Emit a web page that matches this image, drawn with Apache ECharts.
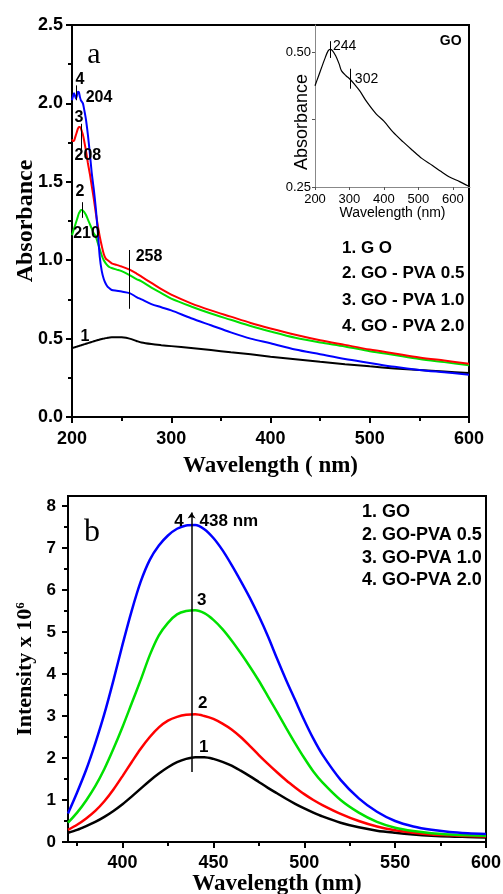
<!DOCTYPE html>
<html><head><meta charset="utf-8">
<script src="https://cdn.jsdelivr.net/npm/echarts@6/dist/echarts.min.js"></script>
<style>html,body{margin:0;padding:0;background:#fff}#c{width:503px;height:894px}</style>
</head><body><div id="c"></div>
<script>
// ---------- Panel a: UV-vis absorbance ----------
const absWl = [200,201,202,203,204,205,206,207,208,209,210,211,212,
  214,216,218,220,222,224,226,228,230,232,234,236,238,240,
  245,250,258,265,270,280,290,300,320,340,360,380,400,425,450,475,500,525,550,575,600];
const absGO = [0.44,0.441,0.443,0.445,0.447,0.449,0.451,0.453,0.455,0.457,0.459,0.461,0.463,
  0.467,0.471,0.475,0.479,0.483,0.487,0.491,0.494,0.497,0.50,0.503,0.505,0.507,0.508,
  0.509,0.508,0.50,0.485,0.475,0.465,0.458,0.452,0.44,0.427,0.413,0.40,0.385,0.368,0.352,0.337,0.323,0.31,0.30,0.29,0.28];
const absPVA05 = [1.16,1.18,1.20,1.22,1.24,1.26,1.28,1.30,1.31,1.32,1.32,1.315,1.31,
  1.29,1.26,1.23,1.20,1.17,1.15,1.11,1.07,1.03,1.00,0.98,0.965,0.955,0.95,
  0.94,0.93,0.905,0.88,0.865,0.825,0.79,0.755,0.705,0.66,0.62,0.58,0.545,0.505,0.475,0.45,0.42,0.395,0.37,0.35,0.33];
const absPVA10 = [1.77,1.76,1.76,1.78,1.80,1.82,1.84,1.85,1.85,1.84,1.82,1.80,1.77,
  1.70,1.62,1.55,1.47,1.39,1.30,1.22,1.15,1.09,1.04,1.01,1.00,0.99,0.98,
  0.97,0.96,0.94,0.915,0.895,0.855,0.815,0.78,0.725,0.68,0.64,0.60,0.565,0.525,0.49,0.46,0.43,0.405,0.38,0.36,0.34];
const absPVA20 = [2.02,2.045,2.065,2.05,2.03,2.05,2.075,2.07,2.04,2.02,2.01,2.00,1.97,
  1.90,1.80,1.68,1.55,1.45,1.33,1.18,1.02,0.93,0.88,0.85,0.83,0.82,0.81,
  0.805,0.80,0.79,0.765,0.75,0.72,0.70,0.68,0.63,0.585,0.54,0.50,0.47,0.43,0.40,0.37,0.345,0.32,0.30,0.285,0.27];

// ---------- Inset: GO absorbance ----------
const insetWl = [200,210,219,230,238,244,250,260,270,277,290,301,315,330,350,378,400,426,455,483,510,541,565,589,620,645];
const insetGO = [0.4375,0.455,0.471,0.490,0.502,0.505,0.503,0.493,0.478,0.465,0.456,0.450,0.440,0.428,0.408,0.385,0.372,0.352,0.334,0.318,0.303,0.290,0.279,0.269,0.260,0.252];
const insetXTicks = [200,300,400,500,600];
const insetYLabels = [0.25,0.50];
const insetYTicks = [0.25,0.375,0.50];

// ---------- Panel b: PL intensity ----------
const plWl = [370,375,380,385,390,395,400,405,410,415,420,425,430,435,440,445,450,455,460,465,470,475,480,485,490,495,500,505,510,520,530,540,550,560,570,580,590,600];
const plGO = [0.22,0.29,0.38,0.48,0.60,0.74,0.90,1.08,1.27,1.46,1.63,1.78,1.90,1.98,2.02,2.02,1.98,1.91,1.82,1.70,1.57,1.43,1.29,1.16,1.03,0.91,0.80,0.70,0.61,0.46,0.35,0.27,0.22,0.18,0.15,0.13,0.12,0.11];
const plPVA05 = [0.29,0.41,0.56,0.74,0.97,1.25,1.57,1.90,2.22,2.50,2.73,2.89,2.98,3.03,3.04,3.00,2.93,2.82,2.68,2.50,2.29,2.07,1.86,1.66,1.47,1.30,1.14,1.00,0.88,0.67,0.50,0.37,0.28,0.22,0.18,0.16,0.14,0.13];
const plPVA10 = [0.46,0.70,0.99,1.33,1.74,2.22,2.74,3.30,3.86,4.45,4.92,5.22,5.42,5.50,5.52,5.45,5.29,5.07,4.80,4.50,4.18,3.84,3.47,3.10,2.72,2.35,2.00,1.68,1.42,1.00,0.70,0.48,0.34,0.26,0.21,0.18,0.16,0.15];
const plPVA20 = [0.68,1.18,1.72,2.35,3.05,3.85,4.70,5.50,6.20,6.72,7.06,7.30,7.46,7.54,7.55,7.45,7.24,6.95,6.60,6.22,5.82,5.38,4.90,4.37,3.86,3.38,2.90,2.46,2.08,1.48,1.04,0.72,0.50,0.37,0.29,0.24,0.21,0.19];
const plXTicks = [400,450,500,550,600];
const plXMinor = [375,425,475,525,575];
const plYTicks = [0,1,2,3,4,5,6,7,8];
const plYMinor = [0.5,1.5,2.5,3.5,4.5,5.5,6.5,7.5];

const legendA = ['1. G O','2. GO - PVA 0.5','3. GO - PVA 1.0','4. GO - PVA 2.0'];
const legendB = ['1. GO','2. GO-PVA 0.5','3. GO-PVA 1.0','4. GO-PVA 2.0'];

const SANS = '"Liberation Sans", Arial, sans-serif';
const SERIF = '"Liberation Serif", "Times New Roman", serif';
const BLACK = '#000000', GREEN = '#00e000', RED = '#ff0000', BLUE = '#0000ff';

const pairs = (xs, ys) => xs.map((x, i) => [x, ys[i]]);

function lineSeries(xi, yi, xs, ys, color, w, extra) {
  return Object.assign({
    type: 'line', xAxisIndex: xi, yAxisIndex: yi, data: pairs(xs, ys),
    showSymbol: false, symbol: 'none', smooth: 0.3, animation: false, silent: true,
    lineStyle: { color: color, width: w }, itemStyle: { color: color }
  }, extra || {});
}
function marks(lines, w, syms) {
  return {
    silent: true, animation: false, symbol: syms || 'none', symbolSize: 7,
    label: { show: false }, lineStyle: { color: BLACK, width: w, type: 'solid' },
    emphasis: { disabled: true },
    data: lines.map(l => [{ coord: [l[0], l[1]] }, { coord: [l[0], l[2]] }])
  };
}
function texts(items) {
  return {
    silent: true, animation: false, symbol: 'circle', symbolSize: 1,
    itemStyle: { color: 'rgba(0,0,0,0)' },
    data: items.map(t => ({
      coord: [t[0], t[1]], value: 0,
      label: { show: true, position: 'inside', formatter: t[2], color: BLACK,
        fontFamily: t[4] || SANS, fontWeight: t[5] || 'bold', fontSize: t[3] }
    }))
  };
}

const tickLabelA = { color: BLACK, fontFamily: SANS, fontWeight: 'bold', fontSize: 18 };

const option = {
  animation: false,
  backgroundColor: '#fff',
  grid: [
    { left: 72, top: 25, width: 397, height: 392, show: true, borderColor: BLACK, borderWidth: 2, backgroundColor: 'transparent', containLabel: false, outerBoundsMode: 'none' },
    { left: 315, top: 25, width: 155, height: 162, show: false, containLabel: false, outerBoundsMode: 'none' },
    { left: 68, top: 496, width: 418, height: 346, show: true, borderColor: BLACK, borderWidth: 2, backgroundColor: 'transparent', containLabel: false, outerBoundsMode: 'none' }
  ],
  xAxis: [
    { gridIndex: 0, type: 'value', min: 200, max: 600, interval: 100, position: 'bottom',
      axisLine: { onZero: false, lineStyle: { color: BLACK, width: 2 } },
      axisTick: { inside: false, length: 6, lineStyle: { color: BLACK, width: 2 } },
      minorTick: { show: true, splitNumber: 2, length: 4, lineStyle: { color: BLACK, width: 2 } },
      splitLine: { show: false },
      axisLabel: Object.assign({ margin: 13 }, tickLabelA),
      name: 'Wavelength ( nm)', nameLocation: 'middle', nameGap: 38, nameMoveOverlap: false,
      nameTextStyle: { color: BLACK, fontFamily: SERIF, fontWeight: 'bold', fontSize: 23 } },
    { gridIndex: 1, type: 'value', min: 200, max: 650, position: 'bottom',
      axisLine: { onZero: false, lineStyle: { color: '#888', width: 1 } },
      axisTick: { inside: false, length: 3, customValues: insetXTicks, lineStyle: { color: '#555', width: 1 } },
      splitLine: { show: false },
      axisLabel: { customValues: insetXTicks, margin: 6, color: BLACK, fontFamily: SANS, fontSize: 13 },
      name: 'Wavelength (nm)', nameLocation: 'middle', nameGap: 19, nameMoveOverlap: false,
      nameTextStyle: { color: BLACK, fontFamily: SANS, fontSize: 14 } },
    { gridIndex: 2, type: 'value', min: 370, max: 600, position: 'bottom',
      axisLine: { onZero: false, lineStyle: { color: BLACK, width: 2 } },
      axisTick: { inside: false, length: 6, customValues: plXTicks, lineStyle: { color: BLACK, width: 2 } },
      splitLine: { show: false },
      axisLabel: { customValues: plXTicks, margin: 12, color: BLACK, fontFamily: SANS, fontWeight: 'bold', fontSize: 18 },
      name: 'Wavelength (nm)', nameLocation: 'middle', nameGap: 31, nameMoveOverlap: false,
      nameTextStyle: { color: BLACK, fontFamily: SERIF, fontWeight: 'bold', fontSize: 23 } },
    { gridIndex: 2, type: 'value', min: 370, max: 600, position: 'bottom',
      axisLine: { show: false },
      axisTick: { inside: false, length: 4, customValues: plXMinor, lineStyle: { color: BLACK, width: 2 } },
      splitLine: { show: false }, axisLabel: { show: false } }
  ],
  yAxis: [
    { gridIndex: 0, type: 'value', min: 0, max: 2.5, interval: 0.5, position: 'left',
      axisLine: { onZero: false, lineStyle: { color: BLACK, width: 2 } },
      axisTick: { inside: false, length: 6, lineStyle: { color: BLACK, width: 2 } },
      minorTick: { show: true, splitNumber: 2, length: 4, lineStyle: { color: BLACK, width: 2 } },
      splitLine: { show: false },
      axisLabel: Object.assign({ margin: 9, formatter: v => v.toFixed(1) }, tickLabelA),
      name: 'Absorbance', nameLocation: 'middle', nameGap: 34, nameMoveOverlap: false,
      nameTextStyle: { color: BLACK, fontFamily: SERIF, fontWeight: 'bold', fontSize: 24 } },
    { gridIndex: 1, type: 'value', min: 0.25, max: 0.55, position: 'left',
      axisLine: { onZero: false, lineStyle: { color: '#888', width: 1 } },
      axisTick: { inside: false, length: 3, customValues: insetYTicks, lineStyle: { color: '#555', width: 1 } },
      splitLine: { show: false },
      axisLabel: { customValues: insetYLabels, margin: 4, formatter: v => v.toFixed(2), color: BLACK, fontFamily: SANS, fontSize: 13 },
      name: 'Absorbance', nameLocation: 'middle', nameGap: 4, nameMoveOverlap: false,
      nameTextStyle: { color: BLACK, fontFamily: SANS, fontSize: 18, padding: [0, 32, 0, 0] } },
    { gridIndex: 2, type: 'value', min: 0, max: 8.24, position: 'left',
      axisLine: { onZero: false, lineStyle: { color: BLACK, width: 2 } },
      axisTick: { inside: false, length: 6, customValues: plYTicks, lineStyle: { color: BLACK, width: 2 } },
      splitLine: { show: false },
      axisLabel: { customValues: plYTicks, margin: 12, color: BLACK, fontFamily: SANS, fontWeight: 'bold', fontSize: 17 },
      name: 'Intensity x 10{sup|6}', nameLocation: 'middle', nameGap: 32, nameMoveOverlap: false,
      nameTextStyle: { color: BLACK, fontFamily: SERIF, fontWeight: 'bold', fontSize: 22,
        rich: { sup: { fontFamily: SERIF, fontWeight: 'bold', fontSize: 13, verticalAlign: 'top', color: BLACK } } } },
    { gridIndex: 2, type: 'value', min: 0, max: 8.24, position: 'left',
      axisLine: { show: false },
      axisTick: { inside: false, length: 4, customValues: plYMinor, lineStyle: { color: BLACK, width: 2 } },
      splitLine: { show: false }, axisLabel: { show: false } }
  ],
  series: [
    lineSeries(0, 0, absWl, absGO, BLACK, 2, {
      markLine: marks([[204.7, 2.02, 2.115], [209, 1.70, 1.87], [210.8, 1.27, 1.37], [257.8, 0.69, 1.065]], 1),
      markPoint: texts([
        [208, 2.15, '4', 16], [227.2, 2.04, '204', 16], [207, 1.91, '3', 16], [216, 1.67, '208', 16],
        [208, 1.435, '2', 16], [214.6, 1.17, '210', 16], [277.6, 1.02, '258', 16], [213, 0.51, '1', 16],
        [222, 2.31, 'a', 30, SERIF, 'normal']
      ])
    }),
    lineSeries(0, 0, absWl, absPVA05, GREEN, 2),
    lineSeries(0, 0, absWl, absPVA10, RED, 2),
    lineSeries(0, 0, absWl, absPVA20, BLUE, 2),
    lineSeries(1, 1, insetWl, insetGO, BLACK, 1.2, {
      markLine: marks([[244, 0.489, 0.52], [302, 0.432, 0.469]], 1),
      markPoint: texts([
        [286.3, 0.511, '244', 14, SANS, 'normal'], [349.6, 0.450, '302', 14, SANS, 'normal'],
        [594, 0.52, 'GO', 14, SANS, 'bold']
      ])
    }),
    lineSeries(2, 2, plWl, plGO, BLACK, 2.5, {
      markPoint: texts([
        [431, 7.64, '4', 17], [458.5, 7.64, '438 nm', 17], [443.6, 5.76, '3', 17],
        [444.2, 3.31, '2', 17], [444.7, 2.26, '1', 17], [383.2, 7.38, 'b', 32, SERIF, 'normal']
      ])
    }),
    lineSeries(2, 2, plWl, plPVA05, RED, 2.5),
    lineSeries(2, 2, plWl, plPVA10, GREEN, 2.5),
    lineSeries(2, 2, plWl, plPVA20, BLUE, 2.5, {
      markLine: Object.assign(marks([[438, 1.67, 7.85]], 1.5, ['none', 'arrow']), { symbolSize: 6 })
    })
  ],
  graphic: [].concat(
    legendA.map((t, i) => ({ type: 'text', left: 342, top: [240, 265, 292, 318][i], silent: true,
      style: { text: t, fill: BLACK, font: 'bold 17px ' + SANS } })),
    legendB.map((t, i) => ({ type: 'text', left: 362, top: [503, 526, 549, 571][i], silent: true,
      style: { text: t, fill: BLACK, font: 'bold 18px ' + SANS } }))
  )
};

const chart = echarts.init(document.getElementById('c'), null, { renderer: 'canvas', width: 503, height: 894 });
chart.setOption(option);
</script>
</body></html>
